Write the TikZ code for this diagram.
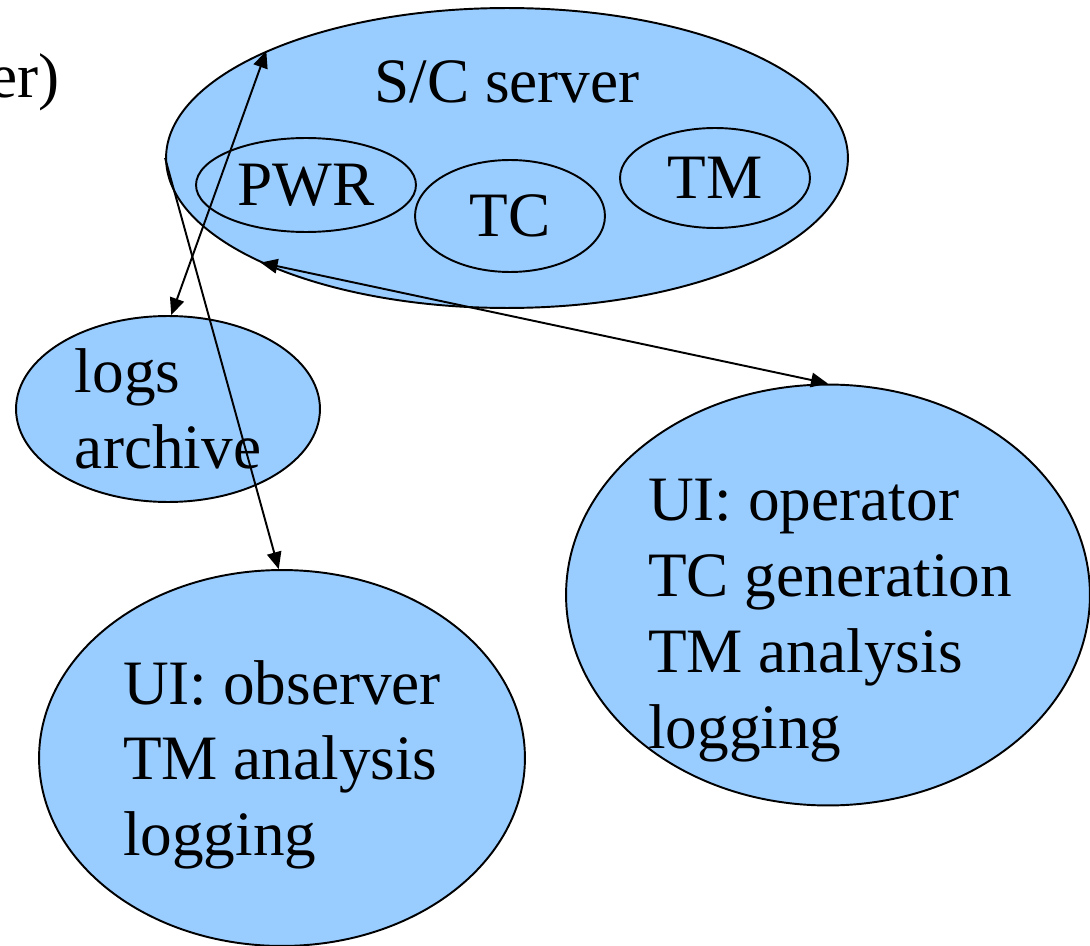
\documentclass[tikz,border=0pt]{standalone}
\usepackage{fontspec}
\setmainfont{Liberation Serif}
\usepackage{tikz}
\usetikzlibrary{arrows.meta,shapes.geometric}
\definecolor{skyfill}{HTML}{99CCFF}

\begin{document}
\begin{tikzpicture}[
    x=0.02cm, y=-0.02cm,
    font=\fontsize{36}{43.2}\selectfont,
    blob/.style={draw, ellipse, line width=1.1pt, fill=skyfill, inner sep=0pt, text depth=0pt, align=left},
    arrow/.style={{Triangle[length=3.4mm, width=2.9mm]}-{Triangle[length=3.4mm, width=2.9mm]}, line width=1.1pt},
    oneway/.style={-{Triangle[length=3.4mm, width=2.9mm]}, line width=1.1pt}
]
\useasboundingbox (0,0) rectangle (1090,946);

% Clipped title
\node[anchor=base east, inner sep=0pt] (title) at (60,98) {er)};

% Server with its subsystems
\node[blob, minimum width=13.64cm, minimum height=6cm] (server) at (507,158) {};
\node[anchor=base, inner sep=0pt] (servername) at (507,103) {S/C server};
\node[blob, minimum width=4.4cm, minimum height=1.88cm] (pwr) at (306,185) {PWR};
\node[blob, minimum width=3.8cm, minimum height=2.24cm] (tc) at (510,216) {TC};
\node[blob, minimum width=3.8cm, minimum height=2cm] (tm) at (715,178) {TM};

% Clients
\node[blob, minimum width=6.08cm, minimum height=3.72cm] (logs) at (168,409) {logs\\archive};
\node[blob, minimum width=9.72cm, minimum height=7.52cm] (observer) at (282,758) {UI: observer\\TM analysis\\logging};
\node[blob, minimum width=10.48cm, minimum height=8.42cm] (operator) at (828,595) {};
\node[align=left, inner sep=0pt, text depth=0pt] (operatortext) at (830,614) {UI: operator\\TC generation\\TM analysis\\logging};

% Links
\draw[arrow] (logs.88) -- (server.156);
\draw[oneway] (server.180) -- (observer.91);
\draw[arrow] (server.203.5) -- (operator.north);

\end{tikzpicture}
\end{document}
